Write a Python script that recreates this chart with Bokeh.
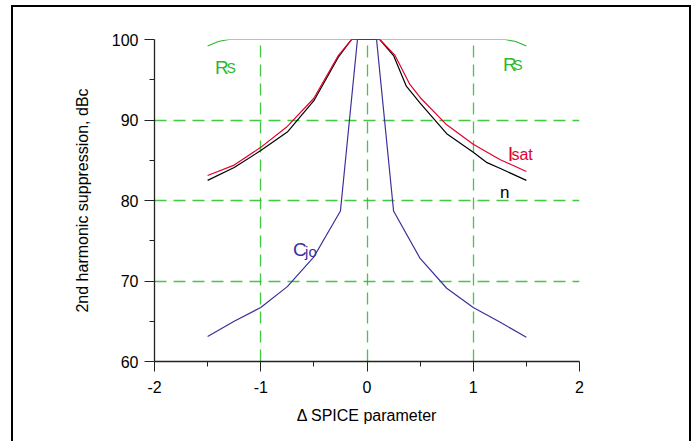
from bokeh.plotting import figure
from bokeh.models import Range1d, FixedTicker, Label, InlineStyleSheet
from bokeh.embed import file_html
from bokeh.resources import INLINE

# ---- data ----
x_ticks = [-2, -1, 0, 1, 2]
x_minor = [-1.5, -0.5, 0.5, 1.5]
x_tick_labels = ["-2", "-1", "0", "1", "2"]
y_ticks = [60, 70, 80, 90, 100]
y_minor = [65, 75, 85, 95]
y_tick_labels = ["60", "70", "80", "90", "100"]

isat_x = [-1.5, -1.25, -1.0, -0.75, -0.5, -0.27, -0.145, 0.12, 0.26, 0.4, 0.5, 0.75, 1.0, 1.25, 1.5]
isat_y = [83.1, 84.4, 86.6, 89.2, 92.7, 98.0, 100.0, 100.0, 98.1, 94.5, 92.8, 89.4, 87.0, 85.1, 83.6]

n_x = [-1.5, -1.25, -1.0, -0.75, -0.5, -0.27, -0.145, 0.12, 0.25, 0.37, 0.5, 0.75, 1.0, 1.13, 1.25, 1.5]
n_y = [82.5, 84.1, 86.2, 88.5, 92.4, 97.8, 100.0, 100.0, 98.0, 94.2, 92.1, 88.3, 86.0, 84.7, 84.0, 82.5]

cjo_x = [-1.5, -1.25, -1.0, -0.75, -0.5, -0.25, -0.09, 0.09, 0.25, 0.5, 0.75, 1.0, 1.25, 1.5]
cjo_y = [63.1, 65.0, 66.7, 69.3, 73.0, 78.7, 100.0, 100.0, 78.7, 72.8, 69.1, 66.7, 64.9, 63.0]

rs_x = [-1.5, -1.4, -1.3, 1.3, 1.4, 1.5]
rs_y = [99.2, 99.75, 100.0, 100.0, 99.75, 99.2]

FONT = "Liberation Sans"
GRID = "#2fc22f"
RED = "#e2002f"
BLUE = "#3a3198"
GREEN = "#2db82d"

p = figure(width=693, height=441, output_backend="svg", toolbar_location=None,
           x_range=Range1d(-2, 2), y_range=Range1d(60, 100),
           frame_width=425, frame_height=322,
           min_border_left=154, min_border_top=39, min_border_right=114, min_border_bottom=80)
p.outline_line_color = None
p.background_fill_color = "white"
p.border_fill_color = "white"

# axes
for ax in (p.xaxis[0], p.yaxis[0]):
    ax.axis_line_color = "#222222"
    ax.axis_line_width = 1.3
    ax.major_tick_line_color = "#222222"
    ax.minor_tick_line_color = "#222222"
    ax.major_tick_in = 0
    ax.major_tick_out = 10
    ax.minor_tick_in = 0
    ax.minor_tick_out = 5
    ax.major_label_text_font = FONT
    ax.major_label_text_font_size = "16px"
    ax.major_label_text_color = "black"
    ax.axis_label_text_font = FONT
    ax.axis_label_text_font_size = "16px"
    ax.axis_label_text_font_style = "normal"
    ax.axis_label_text_color = "black"
    ax.major_label_standoff = 6

p.xaxis[0].ticker = FixedTicker(ticks=x_ticks, minor_ticks=x_minor)
p.yaxis[0].ticker = FixedTicker(ticks=y_ticks, minor_ticks=y_minor)
p.xaxis[0].major_label_overrides = dict(zip(x_ticks, x_tick_labels))
p.yaxis[0].major_label_overrides = dict(zip(y_ticks, y_tick_labels))
p.xaxis[0].major_label_standoff = 9
p.xaxis[0].axis_label = "Δ SPICE parameter"
p.yaxis[0].axis_label = "2nd harmonic suppression, dBc"
p.xaxis[0].axis_label_standoff = 11
p.yaxis[0].axis_label_standoff = 18

# grid
for g in (p.xgrid[0], p.ygrid[0]):
    g.grid_line_color = GRID
    g.grid_line_width = 1.3
    g.grid_line_dash = "12 7"
    g.grid_line_alpha = 0.9
p.xgrid[0].ticker = FixedTicker(ticks=x_ticks)
p.ygrid[0].ticker = FixedTicker(ticks=y_ticks)

# curves
p.line(rs_x, rs_y, line_color=GREEN, line_width=1.2)
p.line(cjo_x, cjo_y, line_color=BLUE, line_width=1.2)
p.line(n_x, n_y, line_color="black", line_width=1.2)
p.line(isat_x, isat_y, line_color=RED, line_width=1.2)

# curve labels
def lab(x, y, t, color, size):
    p.add_layout(Label(x=x, y=y, text=t, text_color=color, text_font=FONT,
                       text_font_size=size, text_baseline="alphabetic", text_align="left"))

lab(-1.430, 96.54, "R", GREEN, "19px")
lab(-1.322, 96.42, "S", GREEN, "14px")
lab(1.281, 96.94, "R", GREEN, "19px")
lab(1.376, 96.81, "S", GREEN, "14px")
lab(1.324, 85.77, "I", RED, "20px")
lab(1.359, 85.68, "sat", RED, "16px")
lab(1.251, 81.0, "n", "black", "17px")
lab(-0.696, 73.9, "C", BLUE, "19px")
lab(-0.583, 73.65, "jo", BLUE, "15px")

# outer frame of the picture (left, top and right edges; bottom lies below the window)
p.stylesheets = [InlineStyleSheet(css="""
:host { position: relative; }
:host::after {
  content: '';
  position: absolute;
  left: 11px; top: 5px; width: 680px; height: 436px;
  box-sizing: border-box;
  border: 2px solid black; border-bottom: none;
  pointer-events: none;
}
""")]

open("out.html", "w").write(file_html(p, INLINE))
